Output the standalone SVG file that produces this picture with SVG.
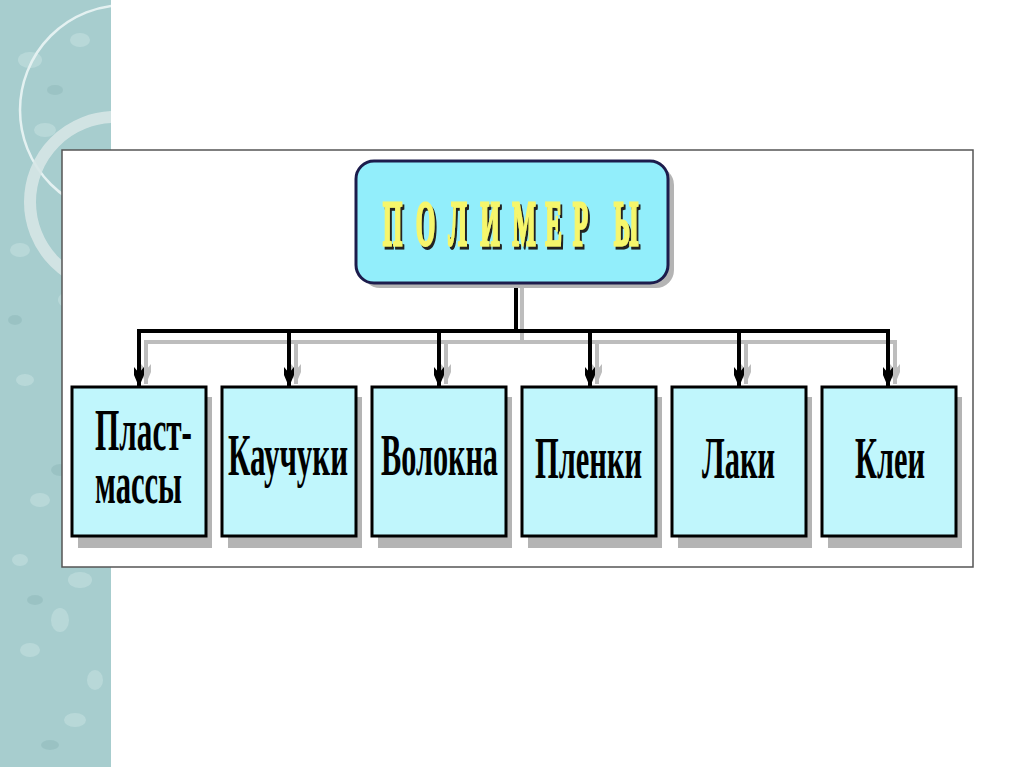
<svg xmlns="http://www.w3.org/2000/svg" width="1024" height="767" viewBox="0 0 1024 767">
<defs>
<style>
.box{fill:#c0f6fc;stroke:#000;stroke-width:3}
.shadow{fill:#b4b4b4}
.lbl{font-family:"Liberation Serif",serif;font-weight:bold;font-size:34px;fill:#000}
.ln{stroke:#000;stroke-width:4;fill:none}
.lns{stroke:#bdbdbd;stroke-width:4;fill:none}
.title{font-family:"Liberation Serif",serif;font-weight:bold;font-size:25px;fill:#f6f66c;stroke:#f6f66c;stroke-width:1.1;text-anchor:middle}
</style>
<clipPath id="stripClip"><rect x="0" y="0" width="111" height="767"/></clipPath>
<filter id="tshadow" x="-10%" y="-10%" width="130%" height="140%">
<feOffset in="SourceAlpha" dx="1.5" dy="3" result="o"/>
<feFlood flood-color="#222"/>
<feComposite in2="o" operator="in" result="s"/>
<feMerge><feMergeNode in="s"/><feMergeNode in="SourceGraphic"/></feMerge>
</filter>
<marker id="arr" markerWidth="20" markerHeight="12" refX="20" refY="6" orient="auto" markerUnits="userSpaceOnUse" viewBox="0 0 20 12">
<path d="M0,1 L6,6 L0,11 L8,11 L20,6 L8,1 Z" fill="#000"/>
</marker>
<marker id="arrs" markerWidth="20" markerHeight="12" refX="20" refY="6" orient="auto" markerUnits="userSpaceOnUse" viewBox="0 0 20 12">
<path d="M0,1 L6,6 L0,11 L8,11 L20,6 L8,1 Z" fill="#bdbdbd"/>
</marker>
</defs>
<rect width="1024" height="767" fill="#fff"/>
<g id="decor" clip-path="url(#stripClip)">
<rect x="0" y="0" width="111" height="767" fill="#a7cdce"/>
<g fill="#c4e0e0" opacity="0.6">
<ellipse cx="30" cy="60" rx="12" ry="8"/><ellipse cx="80" cy="40" rx="10" ry="7"/>
<ellipse cx="45" cy="130" rx="11" ry="7"/><ellipse cx="20" cy="250" rx="10" ry="7"/>
<ellipse cx="70" cy="300" rx="12" ry="8"/><ellipse cx="25" cy="380" rx="9" ry="6"/>
<ellipse cx="85" cy="430" rx="11" ry="7"/><ellipse cx="40" cy="500" rx="10" ry="7"/>
<ellipse cx="80" cy="580" rx="12" ry="8"/><ellipse cx="30" cy="650" rx="10" ry="7"/>
<ellipse cx="75" cy="720" rx="11" ry="7"/><ellipse cx="60" cy="620" rx="9" ry="12"/>
<ellipse cx="20" cy="560" rx="8" ry="6"/><ellipse cx="95" cy="680" rx="8" ry="10"/>
</g>
<g fill="#8fb9ba" opacity="0.5">
<ellipse cx="55" cy="90" rx="8" ry="5"/><ellipse cx="15" cy="320" rx="7" ry="5"/>
<ellipse cx="60" cy="470" rx="9" ry="6"/><ellipse cx="35" cy="600" rx="8" ry="5"/>
<ellipse cx="90" cy="520" rx="7" ry="5"/><ellipse cx="50" cy="745" rx="9" ry="5"/>
</g>
<circle cx="125" cy="110" r="105" fill="none" stroke="#e4f1f1" stroke-width="2.5"/>
<circle cx="115" cy="202" r="85" fill="none" stroke="#d6e6e6" stroke-width="12" opacity="0.9"/>
</g>
<g id="frame">
<rect x="62" y="150" width="911" height="417" fill="#fff" stroke="#555" stroke-width="1.5"/>
</g>
<g id="connectors">
<path class="lns" d="M522,288 V342 M144,342 H897"/>
<path class="lns" marker-end="url(#arrs)" d="M146,342 V384"/>
<path class="lns" marker-end="url(#arrs)" d="M296,342 V384"/>
<path class="lns" marker-end="url(#arrs)" d="M446,342 V384"/>
<path class="lns" marker-end="url(#arrs)" d="M597,342 V384"/>
<path class="lns" marker-end="url(#arrs)" d="M746,342 V384"/>
<path class="lns" marker-end="url(#arrs)" d="M895,342 V384"/>
<path class="ln" d="M516,283 V331 M137,331 H890" stroke-width="5"/>
<path class="ln" marker-end="url(#arr)" d="M139,331 V387"/>
<path class="ln" marker-end="url(#arr)" d="M289,331 V387"/>
<path class="ln" marker-end="url(#arr)" d="M439,331 V387"/>
<path class="ln" marker-end="url(#arr)" d="M590,331 V387"/>
<path class="ln" marker-end="url(#arr)" d="M739,331 V387"/>
<path class="ln" marker-end="url(#arr)" d="M888,331 V387"/>
</g>
<g id="polymers">
<rect x="362" y="167" width="312" height="121" rx="18" fill="#b4b4b4"/>
<rect x="356" y="161" width="312" height="122" rx="18" fill="#92eefb" stroke="#1c1c4c" stroke-width="3"/>
<g filter="url(#tshadow)">
<text class="title" transform="translate(0,245) scale(1,2.55)" y="0"><tspan x="392.5">П</tspan><tspan x="425.5">О</tspan><tspan x="457.5">Л</tspan><tspan x="490">И</tspan><tspan x="524">М</tspan><tspan x="553.5">Е</tspan><tspan x="580.5">Р</tspan><tspan x="626">Ы</tspan></text>
</g>
</g>
<g id="plastics">
<rect class="shadow" x="78" y="397" width="134" height="151"/>
<rect class="box" x="72" y="387" width="134" height="149"/>
<text class="lbl" transform="translate(95,450) scale(1,1.75)" textLength="97" lengthAdjust="spacingAndGlyphs">Пласт-</text>
<text class="lbl" transform="translate(95,503) scale(1,1.75)" textLength="87" lengthAdjust="spacingAndGlyphs">массы</text>
</g>
<g id="rubbers">
<rect class="shadow" x="228" y="397" width="134" height="151"/>
<rect class="box" x="222" y="387" width="134" height="149"/>
<text class="lbl" transform="translate(228,475) scale(1,1.75)" textLength="120" lengthAdjust="spacingAndGlyphs">Каучуки</text>
</g>
<g id="fibers">
<rect class="shadow" x="378" y="397" width="134" height="151"/>
<rect class="box" x="372" y="387" width="134" height="149"/>
<text class="lbl" transform="translate(381,475) scale(1,1.75)" textLength="117" lengthAdjust="spacingAndGlyphs">Волокна</text>
</g>
<g id="films">
<rect class="shadow" x="528" y="397" width="134" height="151"/>
<rect class="box" x="522" y="387" width="134" height="149"/>
<text class="lbl" transform="translate(535,478) scale(1,1.75)" textLength="107" lengthAdjust="spacingAndGlyphs">Пленки</text>
</g>
<g id="lacquers">
<rect class="shadow" x="678" y="397" width="134" height="151"/>
<rect class="box" x="672" y="387" width="134" height="149"/>
<text class="lbl" transform="translate(702,478) scale(1,1.75)" textLength="73" lengthAdjust="spacingAndGlyphs">Лаки</text>
</g>
<g id="glues">
<rect class="shadow" x="828" y="397" width="134" height="151"/>
<rect class="box" x="822" y="387" width="134" height="149"/>
<text class="lbl" transform="translate(855,478) scale(1,1.75)" textLength="70" lengthAdjust="spacingAndGlyphs">Клеи</text>
</g>
</svg>
